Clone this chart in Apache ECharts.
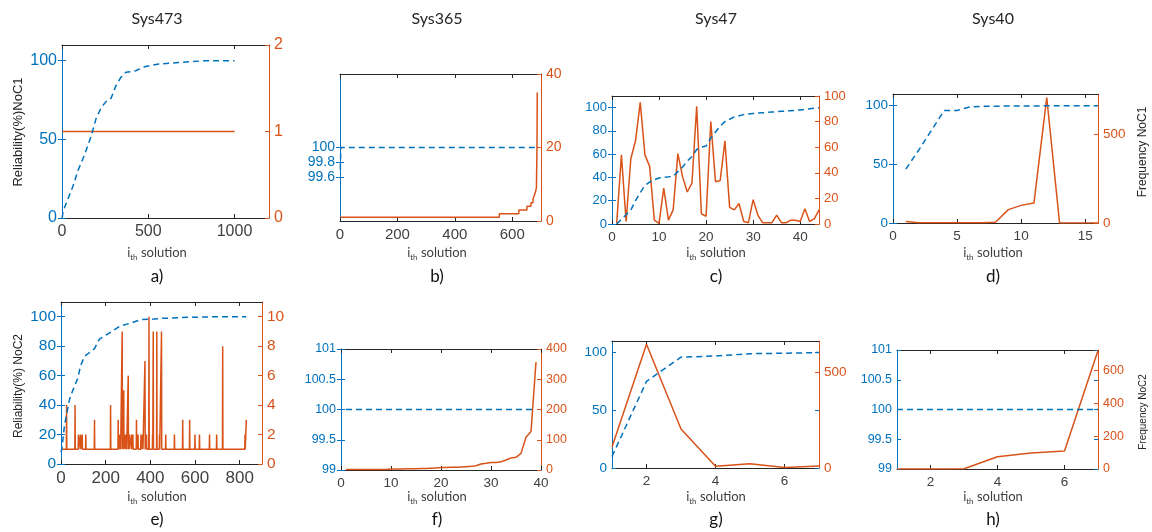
<!DOCTYPE html>
<html>
<head>
<meta charset="utf-8">
<script src="https://cdn.jsdelivr.net/npm/echarts@6/dist/echarts.min.js"></script>
<style>
  html, body { margin: 0; background: #fff; }
  #main { width: 1152px; height: 532px; }
</style>
</head>
<body>
<div id="main"></div>
<script>
// ---- data ----
var columnTitles = ['Sys473', 'Sys365', 'Sys47', 'Sys40'];
var panelLetters = ['a)', 'b)', 'c)', 'd)', 'e)', 'f)', 'g)', 'h)'];

// a) Sys473, NoC1
var aRelX = [1, 6, 25, 63, 92, 130, 169, 197, 226, 255, 284, 312, 341, 370, 427, 485, 561, 676, 830, 1000];
var aRelY = [0, 4, 9.6, 20, 30, 40, 52, 63, 70, 74, 76, 84, 89.4, 92.6, 93.6, 96.4, 97.9, 98.9, 100, 100];
var aFreqX = [1, 1000];
var aFreqY = [1, 1];
var aXTicks = [0, 500, 1000], aLeftTicks = [0, 50, 100], aRightTicks = [0, 1, 2];

// b) Sys365, NoC1
var bRelX = [1, 3, 687];
var bRelY = [99.7, 100, 100];
var bFreqX = [1, 555, 623, 651, 665, 672, 677, 681, 684, 686, 687];
var bFreqY = [1, 2, 3, 4, 5, 6, 7, 8, 9, 20, 35];
var bXTicks = [0, 200, 400, 600], bLeftTicks = [99.6, 99.8, 100], bRightTicks = [0, 20, 40];

// c) Sys47, NoC1 (solutions 1..44)
var cRel = [0, 4, 8, 12, 20, 27, 33, 36, 38, 39.5, 40, 40.5, 41, 45, 49, 54, 58, 64, 66, 67, 74, 79,
            84, 88, 90, 92, 93, 94, 94.5, 95, 95.3, 95.6, 95.9, 96.2, 96.5, 96.8, 97.1, 97.4, 97.7, 98, 98.5, 99, 99.5, 100];
var cFreq = [0.5, 54, 2, 51, 65, 95, 54, 45, 3, 0.5, 28, 3, 11, 55, 37, 25, 32, 92, 8, 6, 80, 33,
             34, 65, 13, 11, 16, 2, 1, 19, 7, 1, 1, 1, 7, 1, 1, 3, 3, 2, 12, 2, 4, 11];
var cXTicks = [0, 10, 20, 30, 40], cLeftTicks = [0, 20, 40, 60, 80, 100], cRightTicks = [0, 20, 40, 60, 80, 100];

// d) Sys40, NoC1 (solutions 1..16)
var dRel = [46, 62, 79, 96, 96, 99, 99.5, 99.6, 99.7, 99.8, 99.8, 99.9, 99.9, 100, 100, 100];
var dFreq = [9, 2, 1, 1, 1, 1, 2, 4, 75, 99, 112, 705, 0, 0, 0, 0];
var dXTicks = [0, 5, 10, 15], dLeftTicks = [0, 50, 100], dRightTicks = [0, 500];

// e) Sys473, NoC2
var eRelX = [0, 4, 16, 38, 53, 76, 87, 105, 150, 172, 216, 261, 312, 357, 416, 454, 573, 700, 830];
var eRelY = [8, 10.7, 26.6, 43.7, 50, 58.6, 66.5, 73, 78.4, 84.8, 88.9, 93.4, 95.7, 98, 98.4, 98.9, 99.6, 100, 100];
var eSpikeX = [25, 63, 78, 87, 95, 111, 150, 222, 256, 262, 266, 274, 281, 289, 293, 301, 306, 316, 322, 338, 345,
               358, 366, 376, 383, 394, 410, 413, 429, 441, 450, 469, 508, 545, 576, 600, 620, 665, 697, 724, 824];
var eSpikeY = [4, 4, 2, 2, 2, 2, 3, 4, 3, 2, 2, 9, 5, 2, 2, 6, 2, 2, 2, 3, 2,
               2, 2, 7, 2, 10, 2, 9, 9, 2, 9, 2, 2, 3, 3, 2, 2, 2, 2, 8, 2];
var eFreqBase = 1, eFreqEndX = 830, eFreqEndY = 3;
var eXTicks = [0, 200, 400, 600, 800], eLeftTicks = [0, 20, 40, 60, 80, 100], eRightTicks = [0, 2, 4, 6, 8, 10];

// f) Sys365, NoC2 (solutions 1..39)
var fRelX = [1, 39];
var fRelY = [100, 100];
var fFreq = [2, 2, 2, 2, 2, 2, 2, 2, 2, 3, 3, 3, 4, 4, 4, 5, 5, 6, 7, 8,
             8, 9, 9, 10, 11, 12, 14, 20, 22, 25, 25, 27, 33, 40, 42, 55, 108, 127, 357];
var fXTicks = [0, 10, 20, 30, 40], fLeftTicks = [99, 99.5, 100, 100.5, 101], fRightTicks = [0, 100, 200, 300, 400];

// g) Sys47, NoC2 (solutions 1..7)
var gRel = [10, 75, 96, 97, 99, 99.4, 100];
var gFreq = [109, 643, 203, 9, 22, 3, 10];
var gXTicks = [2, 4, 6], gLeftTicks = [0, 50, 100], gRightTicks = [0, 500];

// h) Sys40, NoC2 (solutions 1..7)
var hRelX = [1, 7];
var hRelY = [100, 100];
var hFreq = [0, 0, 2, 75, 97, 110, 722];
var hXTicks = [2, 4, 6], hLeftTicks = [99, 99.5, 100, 100.5, 101], hRightTicks = [0, 200, 400, 600];

// ---- helpers ----
var blue = '#0072BD', red = '#D95319', ink = '#262626', gray = '#404040';
var tickFont = '"Liberation Sans", Arial, sans-serif';
var textFont = 'Lato, "Open Sans", sans-serif';

function pairs(xs, ys) { return xs.map(function (x, i) { return [x, ys[i]]; }); }
function indexed(ys) { return ys.map(function (y, i) { return [i + 1, y]; }); }
function spikes(xs, hs, base, endX, endY) {
  var d = [[0, base]];
  xs.forEach(function (x, i) { d.push([x - 1, base], [x, hs[i]], [x + 1, base]); });
  d.push([endX - 1, base], [endX, endY]);
  return d;
}
function plain(v) { return String(v); }

// box = [left, top, width, height]; fx / fy = tick font sizes
var panels = [
  { box: [62, 45, 207, 173], x: [0, 1200], xt: aXTicks, yl: [0, 110], ylt: aLeftTicks, yr: [0, 2], yrt: aRightTicks,
    fx: 16, fy: 16, rel: pairs(aRelX, aRelY), freq: pairs(aFreqX, aFreqY) },
  { box: [340, 74, 201, 147], x: [0, 700], xt: bXTicks, yl: [99, 101], ylt: bLeftTicks, yr: [0, 40], yrt: bRightTicks,
    fx: 15, fy: 14, rel: pairs(bRelX, bRelY), freq: pairs(bFreqX, bFreqY), step: true },
  { box: [612, 96, 207, 128], x: [0, 44], xt: cXTicks, yl: [0, 110], ylt: cLeftTicks, yr: [0, 100], yrt: cRightTicks,
    fx: 13.5, fy: 13, rel: indexed(cRel), freq: indexed(cFreq) },
  { box: [893, 94, 205, 129], x: [0, 16], xt: dXTicks, yl: [0, 110], ylt: dLeftTicks, yr: [0, 725], yrt: dRightTicks,
    fx: 13.5, fy: 13.5, rel: indexed(dRel), freq: indexed(dFreq) },
  { box: [61, 302, 201, 162], x: [0, 900], xt: eXTicks, yl: [0, 110], ylt: eLeftTicks, yr: [0, 11], yrt: eRightTicks,
    fx: 17, fy: 15.5, rel: pairs(eRelX, eRelY), freq: spikes(eSpikeX, eSpikeY, eFreqBase, eFreqEndX, eFreqEndY) },
  { box: [341, 349, 200, 121], x: [0, 40], xt: fXTicks, yl: [99, 101], ylt: fLeftTicks, yr: [0, 400], yrt: fRightTicks,
    fx: 13.5, fy: 12.5, rel: pairs(fRelX, fRelY), freq: indexed(fFreq) },
  { box: [612, 341, 207, 127], x: [1, 7], xt: gXTicks, yl: [0, 110], ylt: gLeftTicks, yr: [0, 660], yrt: gRightTicks,
    fx: 13.5, fy: 13.5, rel: indexed(gRel), freq: indexed(gFreq) },
  { box: [897, 350, 201, 119], x: [1, 7], xt: hXTicks, yl: [99, 101], ylt: hLeftTicks, yr: [0, 725], yrt: hRightTicks,
    fx: 13.5, fy: 12.5, rel: pairs(hRelX, hRelY), freq: indexed(hFreq) }
];

var grid = [], xAxis = [], yAxis = [], series = [];

panels.forEach(function (p, i) {
  grid.push({ left: p.box[0], top: p.box[1], width: p.box[2], height: p.box[3] });

  // bottom and top x rulers (box)
  xAxis.push({
    type: 'value', gridIndex: i, position: 'bottom', min: p.x[0], max: p.x[1],
    axisLine: { show: true, onZero: false, lineStyle: { color: ink, width: 1 } },
    axisTick: { show: true, inside: true, length: 4, customValues: p.xt, lineStyle: { color: ink } },
    axisLabel: { customValues: p.xt, formatter: plain, showMinLabel: true, showMaxLabel: true,
                 color: gray, fontSize: p.fx, fontFamily: tickFont, margin: 6 },
    splitLine: { show: false }
  });
  xAxis.push({
    type: 'value', gridIndex: i, position: 'top', min: p.x[0], max: p.x[1],
    axisLine: { show: true, onZero: false, lineStyle: { color: ink, width: 1 } },
    axisTick: { show: true, inside: true, length: 4, customValues: p.xt, lineStyle: { color: ink } },
    axisLabel: { show: false },
    splitLine: { show: false }
  });

  // left (reliability), right (frequency), and left ticks mirrored on the right side
  yAxis.push({
    type: 'value', gridIndex: i, position: 'left', min: p.yl[0], max: p.yl[1],
    axisLine: { show: true, onZero: false, lineStyle: { color: blue, width: 1 } },
    axisTick: { show: true, inside: true, length: 4, customValues: p.ylt, lineStyle: { color: blue } },
    axisLabel: { customValues: p.ylt, formatter: plain, showMinLabel: true, showMaxLabel: true,
                 color: blue, fontSize: p.fy, fontFamily: tickFont, margin: 5 },
    splitLine: { show: false }
  });
  yAxis.push({
    type: 'value', gridIndex: i, position: 'right', min: p.yr[0], max: p.yr[1],
    axisLine: { show: true, onZero: false, lineStyle: { color: red, width: 1 } },
    axisTick: { show: true, inside: true, length: 4, customValues: p.yrt, lineStyle: { color: red } },
    axisLabel: { customValues: p.yrt, formatter: plain, showMinLabel: true, showMaxLabel: true,
                 color: red, fontSize: p.fy, fontFamily: tickFont, margin: 5 },
    splitLine: { show: false }
  });
  yAxis.push({
    type: 'value', gridIndex: i, position: 'right', min: p.yl[0], max: p.yl[1],
    axisLine: { show: false },
    axisTick: { show: true, inside: true, length: 4, customValues: p.ylt, lineStyle: { color: blue } },
    axisLabel: { show: false },
    splitLine: { show: false }
  });

  series.push({
    type: 'line', xAxisIndex: 2 * i, yAxisIndex: 3 * i, data: p.rel,
    symbol: 'none', z: 3,
    lineStyle: { color: blue, width: 1.5, type: [6, 4] }
  });
  series.push({
    type: 'line', xAxisIndex: 2 * i, yAxisIndex: 3 * i + 1, data: p.freq,
    symbol: 'none', step: p.step ? 'end' : false, z: 2,
    lineStyle: { color: red, width: 1.5 }
  });
});

// ---- text: titles, panel letters, axis names ----
var colX = [157, 437, 716, 993];
var graphic = [];
columnTitles.forEach(function (t, c) {
  graphic.push({ type: 'text', x: colX[c], y: 19,
    style: { text: t, fill: ink, font: '16px ' + textFont, align: 'center', verticalAlign: 'middle' } });
});
panelLetters.forEach(function (t, i) {
  var c = i % 4, row = Math.floor(i / 4);
  graphic.push({ type: 'text', x: colX[c], y: row ? 520 : 277,
    style: { text: t, fill: '#111', font: '17px ' + textFont, align: 'center', verticalAlign: 'middle' } });
  graphic.push({ type: 'text', x: colX[c], y: row ? 497 : 253,
    style: {
      text: '{i|i}{s|th}{n| solution}', align: 'center', verticalAlign: 'middle',
      rich: {
        i: { fontSize: 13, fontFamily: textFont, fill: gray, lineHeight: 16, verticalAlign: 'middle' },
        s: { fontSize: 8, fontFamily: textFont, fill: gray, lineHeight: 16, verticalAlign: 'bottom' },
        n: { fontSize: 13, fontFamily: textFont, fill: gray, lineHeight: 16, verticalAlign: 'middle' }
      }
    } });
});
var sideNames = [
  { t: 'Reliability(%)NoC1', x: 18, y: 132, fs: 13 },
  { t: 'Reliability(%) NoC2', x: 19, y: 386, fs: 12 },
  { t: 'Frequency NoC1', x: 1143, y: 152, fs: 12 },
  { t: 'Frequency NoC2', x: 1143, y: 412, fs: 10 }
];
sideNames.forEach(function (s) {
  graphic.push({ type: 'text', x: s.x, y: s.y, rotation: Math.PI / 2,
    style: { text: s.t, fill: ink, font: s.fs + 'px ' + tickFont, align: 'center', verticalAlign: 'middle' } });
});

var chart = echarts.init(document.getElementById('main'));
chart.setOption({
  animation: false,
  backgroundColor: '#fff',
  grid: grid,
  xAxis: xAxis,
  yAxis: yAxis,
  series: series,
  graphic: graphic
});
</script>
</body>
</html>
